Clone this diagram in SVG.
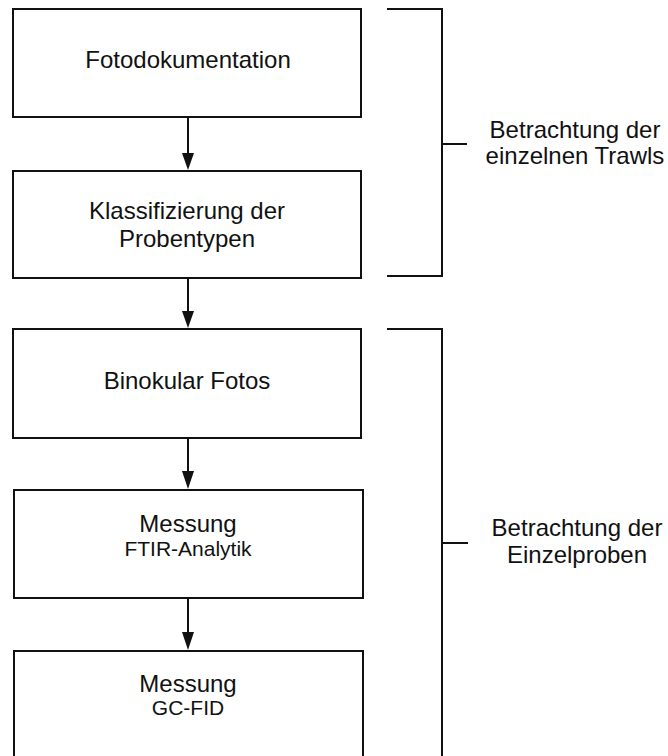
<svg xmlns="http://www.w3.org/2000/svg" width="668" height="756" viewBox="0 0 668 756">
<style>
.box{fill:#fff;stroke:#111;stroke-width:2}
.t{font-family:"Liberation Sans",Arial,sans-serif;font-size:24px;fill:#111;text-anchor:middle}
.s{font-size:21px}
.ln{fill:none;stroke:#111;stroke-width:2}
</style>
<rect width="668" height="756" fill="#fff"/>
<g id="n1"><rect class="box" x="13" y="9" width="348" height="108"/><text class="t" x="188" y="68">Fotodokumentation</text></g>
<g id="n2"><rect class="box" x="13" y="171" width="348" height="107"/><text class="t" x="187" y="219">Klassifizierung der</text><text class="t" x="187" y="247">Probentypen</text></g>
<g id="n3"><rect class="box" x="13" y="329" width="348" height="109"/><text class="t" x="187" y="389">Binokular Fotos</text></g>
<g id="n4"><rect class="box" x="14" y="490" width="349" height="108"/><text class="t" x="188" y="532">Messung</text><text class="t s" x="188" y="556">FTIR-Analytik</text></g>
<g id="n5"><rect class="box" x="14" y="651" width="349" height="110"/><text class="t" x="188" y="692">Messung</text><text class="t s" x="188" y="715">GC-FID</text></g>
<g id="b1"><path class="ln" d="M387,9 H442 V276 H387 M442,144 H467"/><text class="t" x="575" y="138">Betrachtung der</text><text class="t" x="575" y="164">einzelnen Trawls</text></g>
<g id="b2"><path class="ln" d="M387,329 H442 V756 M442,543 H468"/><text class="t" x="577" y="536">Betrachtung der</text><text class="t" x="577" y="563">Einzelproben</text></g>
<g id="connectors" fill="#111" stroke="#111" stroke-width="2">
<line x1="188" y1="117" x2="188" y2="155"/><path d="M182,153 L194,153 L188,170 Z" stroke="none"/>
<line x1="188" y1="278" x2="188" y2="313"/><path d="M182,311 L194,311 L188,328 Z" stroke="none"/>
<line x1="188" y1="438" x2="188" y2="473"/><path d="M182,471 L194,471 L188,489 Z" stroke="none"/>
<line x1="188" y1="598" x2="188" y2="634"/><path d="M182,632 L194,632 L188,650 Z" stroke="none"/>
</g>
</svg>
